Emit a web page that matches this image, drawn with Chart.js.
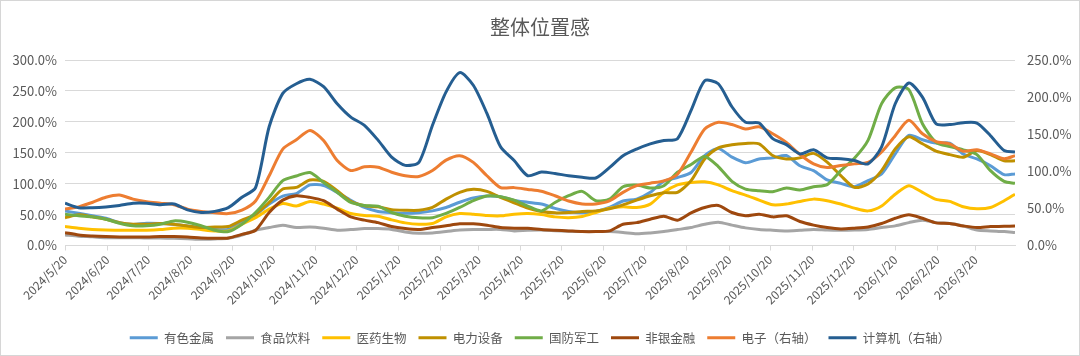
<!DOCTYPE html>
<html><head><meta charset="utf-8">
<script src="https://cdn.jsdelivr.net/npm/chart.js@4.4.1/dist/chart.umd.min.js"></script>
<style>html,body{margin:0;padding:0;background:#fff;}#wrap{width:1080px;height:356px;position:relative;}</style>
</head><body><div id="wrap"><canvas id="c" width="1080" height="356"></canvas></div>
<script>
// x tick labels (dates)
const tickLabels = ['2024/5/20','2024/6/20','2024/7/20','2024/8/20','2024/9/20','2024/10/20','2024/11/20','2024/12/20',
  '2025/1/20','2025/2/20','2025/3/20','2025/4/20','2025/5/20','2025/6/20','2025/7/20','2025/8/20','2025/9/20',
  '2025/10/20','2025/11/20','2025/12/20','2026/1/20','2026/2/20','2026/3/20'];
// sample positions: days since 2024/5/20
const days = [0,10,20,30,40,50,60,70,80,90,100,110,120,130,140,150,160,170,180,190,200,210,220,230,240,250,260,270,280,290,
  300,310,320,330,340,350,360,370,380,390,400,410,420,430,440,450,460,470,480,490,500,510,520,530,540,550,560,570,580,590,
  600,610,620,630,640,650,660,670,680,690,698];

// left axis series (%)
const youseJinshu = [56,52,48,44,37,34,36,35.5,34,31.7,29,26,26,37,49.6,67,80,84,98,97,86,73,61.5,55,
  53,52,53,56,61.5,70,77,80,79,73,70,67,60,55,53,55,61.5,72,75,86,104,110,
  118,145.5,157,143,134,140,141.7,145.5,129,121,106,100.5,95,105,115.7,148,178,171,165.6,165.6,148,140,129,114.6,115.7];
const shipinYinliao = [17,15,14,12.7,12.7,12.7,12,12,11.7,11,10,10.6,11.7,17,24.7,29,32.8,29,30,28,24.7,25.7,27.4,27.4,
  26,22,19.8,20.3,22.5,25,26,26,26,23.6,24.7,25,24,23,22.5,22.5,22.5,21,19,20.3,22.5,25.7,
  29,34.4,37.7,33,28.5,26,24.7,23.6,24.7,26,25,24.7,25,26,29,31.7,37,41,37,35.5,31.7,25,23.6,22.5,21];
const yiyaoShengwu = [30.6,28,26,25,24.7,24.7,24.7,25.7,28,28,25.7,23.6,23.6,34.4,45,58.8,68,64,71,67,60.4,51.8,48.5,47.4,
  41.5,36.6,34.4,35.5,46.3,51.8,50.7,48.5,48,50.7,51.8,50,46.3,45,46.9,53.4,60.4,62.6,61.5,67,86,98,
  102,103,98,88.6,81.6,73.4,65.8,67,71.3,75,72.4,67,60.4,56,64,83,96.7,86,74.5,71.3,62.6,59.3,61.5,72.4,83];
const dianliShebei = [45,49.6,46.3,42.5,37,34.4,34.4,35.5,34.4,31.7,29,30,30.6,41,50.7,69.6,91.3,94,106,103.8,88.6,71.3,64.2,62.6,
  58,57,57,61.5,75,86,90.8,87.5,77.8,69,60.4,55,52.8,53.4,55,56,59.3,65.8,73.4,80.5,85.4,86,
  105,140,158,163,165,164.5,145.5,140,141.7,149,134.7,113,94,99.5,121,156,176,164.5,152.6,147,142.8,153.6,147,137,137];
const guofangJungong = [50.7,48,46.3,42.5,36,32,32,34.4,39.8,37.7,32,24.7,22.5,34.4,53.4,77.8,104.9,112.5,118,102,86,69.6,64.8,63.7,
  53.4,47.4,44.7,45,51.8,61.5,72.4,80,78.9,73.4,63.7,56,69.6,80.5,87.5,72.4,75,95,97.8,93,96.7,118.4,
  131,144,127.6,103.8,91.3,88.6,87,93,89.7,95,98.4,121,141,170,229.5,255,252,197,167,160,154.7,147,121,103.8,100.5];
const feiyinJinrong = [20.8,17,15.4,14.4,13.8,13.8,13.8,14.4,14.4,13.8,12.2,11.7,12.2,18,24.7,53.4,73.4,80.5,77.8,72.4,58.8,46.3,41,37,
  30.6,27.4,26,29,32,35,35,32.8,29,28,28,26,24.7,23.6,22.5,22.5,23.6,34.4,37,42.5,47.4,41,
  52.8,61.5,64.8,53.4,48,50.7,46.3,48,38.8,33,29,26.8,28,30,35.5,44,49.6,44,36.6,35.5,31.7,29,30.6,31,31.7];
// right axis series (%)
const dianzi = [49,52,58,65,68,62.5,59,57,55,49,46,44,43,47.6,60,94,130,142.5,155,141.6,114.5,101,106,105.5,
  98.7,94,93,101,115,121,112,94,78,78,75.6,73,67,60,56,56,60,71.6,80.6,84,87,96,
  126,157,166,163,157,160,150.6,139,122.6,110,105,107.7,110,112,126,148,168.7,150.6,140,137,127,129,123.5,117,121];
const jisuanji = [57,51,51,52,54,57,57,55,56,48,44.5,46,51,65,78,160,205,218,224,214,191,173,162,142,
  119,108,112,162,207,233,216,178,133,114.5,94,99,97,94,92,91,105,121,130,137,141.6,144,
  182,222,218,187,166,165,144,136,123.5,129,118,117,114.5,110,133,191,219,200,164,163,165.5,165,148,128,126];

const seriesNames = ['有色金属','食品饮料','医药生物','电力设备','国防军工','非银金融','电子（右轴）','计算机（右轴）'];
const seriesData = [youseJinshu, shipinYinliao, yiyaoShengwu, dianliShebei, guofangJungong, feiyinJinrong, dianzi, jisuanji];
const seriesColors = ['#5B9BD5','#A5A5A5','#FFC000','#BF9000','#70AD47','#9E480E','#ED7D31','#255E91'];
const seriesAxis = ['y','y','y','y','y','y','y1','y1'];

const base = Date.UTC(2024,4,20);
const tickDays = tickLabels.map(s => { const p = s.split('/').map(Number); return Math.round((Date.UTC(p[0],p[1]-1,p[2]) - base)/86400000); });

const FONT = "'Noto Sans CJK SC', 'Noto Sans', sans-serif";
const GREY = '#595959';

const datasets = seriesNames.map((n,i) => ({
  label: n,
  data: days.map((d,j) => ({x: d, y: seriesData[i][j]})),
  yAxisID: seriesAxis[i],
  borderColor: seriesColors[i],
  backgroundColor: seriesColors[i],
  borderWidth: 3,
  pointRadius: 0,
  tension: 0.25,
  fill: false,
  order: seriesNames.length - i
}));

const bgPlugin = {
  id: 'bg',
  beforeDraw(chart) { const c = chart.ctx; c.save(); c.fillStyle = '#fff'; c.fillRect(0,0,chart.width,chart.height); c.restore(); },
  afterDraw(chart) { const c = chart.ctx; c.save(); c.strokeStyle = '#D6D6D6'; c.lineWidth = 1; c.strokeRect(0.5,0.5,chart.width-1,chart.height-1); c.restore(); }
};

new Chart(document.getElementById('c'), {
  type: 'line',
  data: { datasets },
  plugins: [bgPlugin],
  options: {
    responsive: false,
    animation: false,
    devicePixelRatio: 1,
    layout: { padding: { left: 0, right: 0, top: 0, bottom: 2 } },
    plugins: {
      title: { display: true, text: '整体位置感', color: GREY, font: { family: FONT, size: 20, weight: 'normal' }, padding: { top: 15, bottom: 21 } },
      legend: {
        position: 'bottom',
        labels: {
          color: GREY, font: { family: FONT, size: 12.5 },
          boxWidth: 28, boxHeight: 3, padding: 12,
          sort: (a,b) => a.datasetIndex - b.datasetIndex,
          generateLabels: (chart) => Chart.defaults.plugins.legend.labels.generateLabels(chart).map(it => Object.assign(it, { lineWidth: 0, fillStyle: seriesColors[it.datasetIndex], strokeStyle: seriesColors[it.datasetIndex] }))
        }
      },
      tooltip: { enabled: false }
    },
    scales: {
      x: {
        type: 'linear', min: 0, max: 698,
        afterBuildTicks: (s) => { s.ticks = tickDays.map(v => ({ value: v })); },
        afterFit: (s) => { s.height = 74; },
        ticks: { autoSkip: false, maxRotation: 45, minRotation: 45, color: GREY, font: { family: FONT, size: 12 }, padding: 2,
          callback: (v) => { const i = tickDays.indexOf(v); return i >= 0 ? tickLabels[i] : ''; } },
        grid: { drawOnChartArea: false, drawTicks: true, tickLength: 5, color: '#D9D9D9' },
        border: { display: true, color: '#D9D9D9' }
      },
      y: {
        position: 'left', min: 0, max: 300,
        afterFit: (s) => { s.width = 65; },
        ticks: { stepSize: 50, color: GREY, font: { family: FONT, size: 13 }, padding: 8, callback: (v) => v.toFixed(1) + '%' },
        grid: { color: '#D9D9D9', drawTicks: false },
        border: { display: false }
      },
      y1: {
        position: 'right', min: 0, max: 250,
        afterFit: (s) => { s.width = 65; },
        ticks: { stepSize: 50, color: GREY, font: { family: FONT, size: 13 }, padding: 12, callback: (v) => v.toFixed(1) + '%' },
        grid: { drawOnChartArea: false, drawTicks: false },
        border: { display: false }
      }
    }
  }
});
</script>
</body></html>
